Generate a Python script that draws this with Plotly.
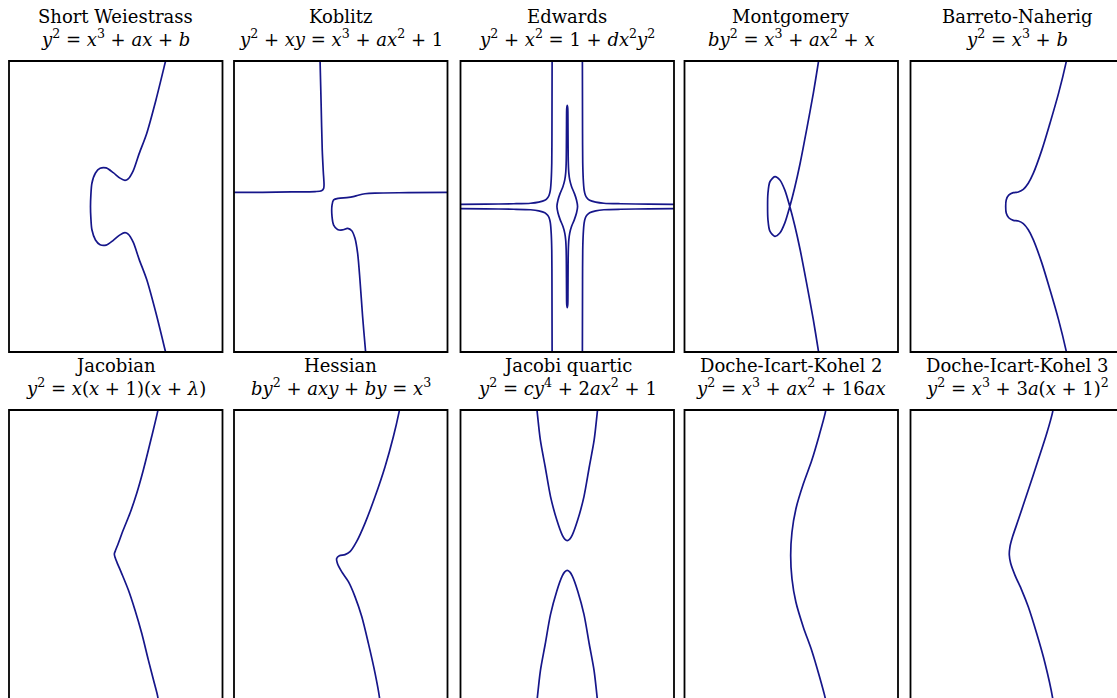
import plotly.graph_objects as go

W, H = 1117, 698
LINE_COLOR = "#16168a"
FONT = "DejaVu Serif"
FONT_SIZE = 18

names = [
    "Short Weiestrass", "Koblitz", "Edwards", "Montgomery", "Barreto-Naherig",
    "Jacobian", "Hessian", "Jacobi quartic", "Doche-Icart-Kohel 2", "Doche-Icart-Kohel 3",
]
equations = [
    "<i>y</i><sup>2</sup> = <i>x</i><sup>3</sup> + <i>ax</i> + <i>b</i>",
    "<i>y</i><sup>2</sup> + <i>xy</i> = <i>x</i><sup>3</sup> + <i>ax</i><sup>2</sup> + 1",
    "<i>y</i><sup>2</sup> + <i>x</i><sup>2</sup> = 1 + <i>dx</i><sup>2</sup><i>y</i><sup>2</sup>",
    "<i>by</i><sup>2</sup> = <i>x</i><sup>3</sup> + <i>ax</i><sup>2</sup> + <i>x</i>",
    "<i>y</i><sup>2</sup> = <i>x</i><sup>3</sup> + <i>b</i>",
    "<i>y</i><sup>2</sup> = <i>x</i>(<i>x</i> + 1)(<i>x</i> + <i>λ</i>)",
    "<i>by</i><sup>2</sup> + <i>axy</i> + <i>by</i> = <i>x</i><sup>3</sup>",
    "<i>y</i><sup>2</sup> = <i>cy</i><sup>4</sup> + 2<i>ax</i><sup>2</sup> + 1",
    "<i>y</i><sup>2</sup> = <i>x</i><sup>3</sup> + <i>ax</i><sup>2</sup> + 16<i>ax</i>",
    "<i>y</i><sup>2</sup> = <i>x</i><sup>3</sup> + 3<i>a</i>(<i>x</i> + 1)<sup>2</sup>",
]

# ---- curve samples, each panel window is x in [-3, 3], y in [-4, 4] ----

# Short Weierstrass
sw_x = [1.45, 1.40, 1.13, 0.87, 0.66, 0.49, 0.35, 0.26, 0.12, -0.07, -0.27, -0.44, -0.57, -0.67, -0.70, -0.71,
        -0.70, -0.67, -0.57, -0.44, -0.27, -0.07, 0.12, 0.26, 0.35, 0.49, 0.66, 0.87, 1.13, 1.40, 1.45]
sw_y = [4.2, 4.0, 2.93, 2.01, 1.46, 0.98, 0.76, 0.72, 0.78, 0.93, 1.06, 1.05, 0.92, 0.64, 0.30, 0.0,
        -0.30, -0.64, -0.92, -1.05, -1.06, -0.93, -0.78, -0.72, -0.76, -0.98, -1.46, -2.01, -2.93, -4.0, -4.2]

# Koblitz: upper-left branch and the right/lower branch
kob_a_x = [-0.59, -0.58, -0.55, -0.52, -0.49, -0.47, -0.48, -0.54, -0.72, -1.38, -2.2, -3.2]
kob_a_y = [4.2, 3.95, 2.75, 1.55, 0.95, 0.60, 0.50, 0.435, 0.41, 0.40, 0.39, 0.385]
kob_b_x = [3.2, 1.90, 0.96, 0.68, 0.49, 0.35, 0.17, -0.07, -0.20, -0.245, -0.245, -0.20, -0.09, 0.045,
           0.195, 0.31, 0.40, 0.475, 0.54, 0.615, 0.70, 0.72]
kob_b_y = [0.39, 0.38, 0.37, 0.35, 0.31, 0.27, 0.245, 0.225, 0.18, 0.04, -0.28, -0.51, -0.63, -0.645,
           -0.60, -0.665, -0.875, -1.29, -2.02, -3.03, -4.01, -4.2]

# Edwards: four outer branches and the central closed loop
edw_ul_x = [-0.425, -0.43, -0.435, -0.45, -0.475, -0.51, -0.55, -0.63, -0.8, -1.03, -1.5, -2.3, -3.2]
edw_ul_y = [4.2, 2.0, 1.2, 0.75, 0.45, 0.31, 0.24, 0.17, 0.12, 0.09, 0.075, 0.065, 0.06]
edw_ur_x = [0.425, 0.43, 0.435, 0.45, 0.475, 0.51, 0.55, 0.63, 0.8, 1.03, 1.5, 2.3, 3.2]
edw_ur_y = [4.2, 2.0, 1.2, 0.75, 0.45, 0.31, 0.24, 0.17, 0.12, 0.09, 0.075, 0.065, 0.06]
edw_ll_x = [-0.425, -0.43, -0.435, -0.45, -0.475, -0.51, -0.55, -0.63, -0.8, -1.03, -1.5, -2.3, -3.2]
edw_ll_y = [-4.2, -2.0, -1.2, -0.75, -0.45, -0.31, -0.24, -0.17, -0.12, -0.09, -0.075, -0.065, -0.06]
edw_lr_x = [0.425, 0.43, 0.435, 0.45, 0.475, 0.51, 0.55, 0.63, 0.8, 1.03, 1.5, 2.3, 3.2]
edw_lr_y = [-4.2, -2.0, -1.2, -0.75, -0.45, -0.31, -0.24, -0.17, -0.12, -0.09, -0.075, -0.065, -0.06]
edw_loop_x = [0.0, 0.014, 0.02, 0.024, 0.03, 0.045, 0.07, 0.12, 0.20, 0.26, 0.29, 0.26, 0.20, 0.12, 0.07,
              0.045, 0.03, 0.024, 0.02, 0.014, 0.0, -0.014, -0.02, -0.024, -0.03, -0.045, -0.07, -0.12,
              -0.20, -0.26, -0.29, -0.26, -0.20, -0.12, -0.07, -0.045, -0.03, -0.024, -0.02, -0.014, 0.0]
edw_loop_y = [2.78, 2.7, 2.29, 1.64, 1.19, 0.91, 0.73, 0.55, 0.36, 0.18, 0.0, -0.18, -0.36, -0.55, -0.73,
              -0.91, -1.19, -1.64, -2.29, -2.7, -2.78, -2.7, -2.29, -1.64, -1.19, -0.91, -0.73, -0.55,
              -0.36, -0.18, 0.0, 0.18, 0.36, 0.55, 0.73, 0.91, 1.19, 1.64, 2.29, 2.7, 2.78]

# Montgomery (node with a loop)
mont_x = [0.80, 0.76, 0.62, 0.43, 0.25, 0.10, -0.04, -0.18, -0.32, -0.46, -0.60, -0.655, -0.665, -0.655,
          -0.60, -0.46, -0.32, -0.18, -0.04, 0.10, 0.25, 0.43, 0.62, 0.76, 0.80]
mont_y = [4.2, 3.95, 3.11, 2.10, 1.19, 0.53, 0.0, -0.45, -0.73, -0.82, -0.68, -0.36, 0.0, 0.36,
          0.68, 0.82, 0.73, 0.45, 0.0, -0.53, -1.19, -2.10, -3.11, -3.95, -4.2]

# Barreto-Naehrig
bn_x = [1.42, 1.37, 1.16, 0.92, 0.69, 0.45, 0.31, 0.17, 0.03, -0.11, -0.24, -0.31, -0.325,
        -0.31, -0.24, -0.11, 0.03, 0.17, 0.31, 0.45, 0.69, 0.92, 1.16, 1.37, 1.42]
bn_y = [4.2, 3.95, 3.11, 2.29, 1.55, 0.91, 0.64, 0.47, 0.40, 0.38, 0.31, 0.18, 0.0,
        -0.18, -0.31, -0.38, -0.40, -0.47, -0.64, -0.91, -1.55, -2.29, -3.11, -3.95, -4.2]

# Jacobian
jac_x = [1.22, 1.18, 1.01, 0.775, 0.59, 0.40, 0.21, 0.07, -0.01, -0.04, -0.02, 0.045, 0.165, 0.355,
         0.54, 0.73, 0.915, 1.085, 1.18, 1.21]
jac_y = [4.2, 3.97, 3.27, 2.35, 1.71, 1.16, 0.70, 0.33, 0.13, 0.04, -0.05, -0.215, -0.49, -0.95,
         -1.50, -2.14, -2.87, -3.51, -3.88, -4.2]

# Hessian
hes_x = [1.69, 1.64, 1.48, 1.245, 0.965, 0.68, 0.445, 0.26, 0.12, -0.04, -0.115, -0.095, 0.025, 0.215,
         0.40, 0.59, 0.775, 0.965, 1.085, 1.12]
hes_y = [4.2, 3.95, 3.27, 2.44, 1.62, 0.885, 0.38, 0.105, 0.023, -0.005, -0.08, -0.215, -0.445, -0.72,
         -1.13, -1.68, -2.41, -3.24, -3.88, -4.2]

# Jacobi quartic: two branches
jq_up_x = [-0.87, -0.845, -0.755, -0.62, -0.47, -0.295, -0.14, -0.07, 0.0, 0.07, 0.14, 0.295, 0.47, 0.62,
           0.755, 0.845, 0.87]
jq_up_y = [4.2, 3.95, 3.17, 2.44, 1.62, 0.98, 0.56, 0.45, 0.41, 0.45, 0.56, 0.98, 1.62, 2.44,
           3.17, 3.95, 4.2]
jq_lo_x = [-0.87, -0.845, -0.755, -0.62, -0.47, -0.295, -0.14, -0.07, 0.0, 0.07, 0.14, 0.295, 0.47, 0.62,
           0.755, 0.845, 0.87]
jq_lo_y = [-4.2, -3.95, -3.17, -2.44, -1.62, -0.98, -0.56, -0.45, -0.41, -0.45, -0.56, -0.98, -1.62, -2.44,
           -3.17, -3.95, -4.2]

# Doche-Icart-Kohel 2
dik2_x = [1.0, 0.96, 0.785, 0.575, 0.34, 0.13, 0.02, -0.016, 0.02, 0.13, 0.34, 0.575, 0.785, 0.96, 1.0]
dik2_y = [4.2, 3.94, 3.3, 2.61, 1.97, 1.28, 0.64, 0.0, -0.64, -1.28, -1.97, -2.61, -3.3, -3.94, -4.2]

# Doche-Icart-Kohel 3
dik3_x = [1.03, 0.995, 0.83, 0.59, 0.31, 0.03, -0.13, -0.205, -0.223, -0.185, -0.065, 0.125, 0.31, 0.545,
          0.78, 0.995, 1.03]
dik3_y = [4.2, 3.95, 3.36, 2.63, 1.80, 0.98, 0.52, 0.24, 0.014, -0.215, -0.54, -0.95, -1.41, -2.14,
          -2.96, -3.92, -4.2]

panels = [
    [(sw_x, sw_y)],
    [(kob_a_x, kob_a_y), (kob_b_x, kob_b_y)],
    [(edw_ul_x, edw_ul_y), (edw_ur_x, edw_ur_y), (edw_ll_x, edw_ll_y), (edw_lr_x, edw_lr_y),
     (edw_loop_x, edw_loop_y)],
    [(mont_x, mont_y)],
    [(bn_x, bn_y)],
    [(jac_x, jac_y)],
    [(hes_x, hes_y)],
    [(jq_up_x, jq_up_y), (jq_lo_x, jq_lo_y)],
    [(dik2_x, dik2_y)],
    [(dik3_x, dik3_y)],
]

# ---- grid geometry (pixels) ----
COL_LEFT = [9, 234, 460.5, 684.5, 910.5]
ROW_TOP = [61, 410]
PW, PH = 213.5, 291
XR = (-3.0, 3.0)
YR = (-4.0, 4.0)
NAME_GAP, EQ_GAP = 44, 23

fig = go.Figure()
layout = {}
shapes = []
annotations = []

for i, pieces in enumerate(panels):
    r, c = divmod(i, 5)
    n = i + 1
    sfx = "" if n == 1 else str(n)
    left, top = COL_LEFT[c], ROW_TOP[r]
    right, bottom = min(left + PW, W), min(top + PH, H)

    # part of the panel window that lies inside the page
    xr = [XR[0], XR[0] + (XR[1] - XR[0]) * (right - left) / PW]
    yr = [YR[1] - (YR[1] - YR[0]) * (bottom - top) / PH, YR[1]]

    axis_common = dict(showgrid=False, zeroline=False, showticklabels=False, ticks="",
                       showline=False, fixedrange=True)
    layout["xaxis" + sfx] = dict(domain=[left / W, right / W], range=xr, anchor="y" + sfx, **axis_common)
    layout["yaxis" + sfx] = dict(domain=[1 - bottom / H, 1 - top / H], range=yr, anchor="x" + sfx, **axis_common)

    for px, py in pieces:
        fig.add_trace(go.Scatter(
            x=px, y=py, mode="lines", xaxis="x" + sfx, yaxis="y" + sfx,
            line=dict(color=LINE_COLOR, width=1.7, shape="spline", smoothing=0.8),
            hoverinfo="skip", showlegend=False,
        ))

    # panel frame (may run past the page edge)
    shapes.append(dict(
        type="rect", xref="x" + sfx + " domain", yref="y" + sfx + " domain",
        x0=0, x1=PW / (right - left), y0=1 - PH / (bottom - top), y1=1,
        line=dict(color="black", width=1.8), fillcolor="rgba(0,0,0,0)", layer="above",
    ))

    cx = (left + PW / 2) / W
    annotations.append(dict(
        text=names[i], x=cx, y=1 - (top - NAME_GAP) / H, xref="paper", yref="paper",
        xanchor="center", yanchor="middle", showarrow=False,
        font=dict(family=FONT, size=FONT_SIZE, color="black"),
    ))
    annotations.append(dict(
        text=equations[i], x=cx, y=1 - (top - EQ_GAP) / H, xref="paper", yref="paper",
        xanchor="center", yanchor="middle", showarrow=False,
        font=dict(family=FONT, size=FONT_SIZE, color="black"),
    ))

fig.update_layout(
    width=W, height=H,
    margin=dict(l=0, r=0, t=0, b=0),
    paper_bgcolor="white", plot_bgcolor="white",
    shapes=shapes, annotations=annotations,
    **layout,
)

fig.write_html("out.html", config={"displayModeBar": False})
